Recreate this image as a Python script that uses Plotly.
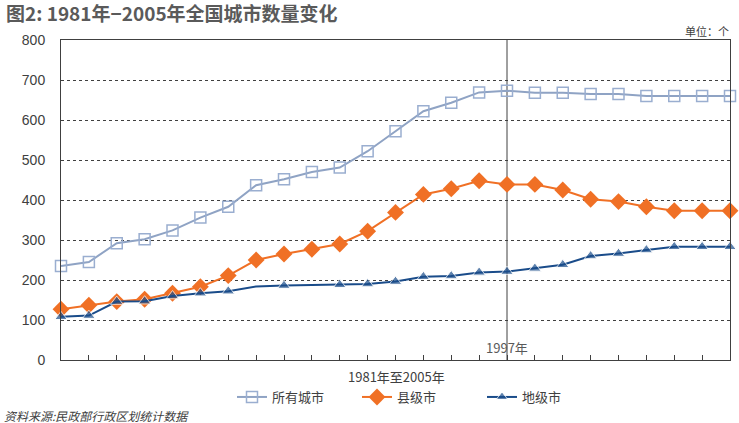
import plotly.graph_objects as go

years = list(range(1981, 2006))
all_cities = [235, 245, 292, 302, 324, 356, 383, 437, 452, 470, 481, 522, 572, 622, 643,
              669, 673, 668, 668, 665, 665, 660, 660, 660, 660]
county_cities = [127, 137, 146, 152, 167, 183, 211, 250, 265, 277, 290, 322, 369, 414, 428,
                 448, 439, 439, 425, 402, 396, 383, 373, 373, 373]
prefecture_cities = [108, 111, 146, 147, 160, 167, 172, 184, 186, 187, 188, 190, 196, 208, 210,
                     219, 221, 229, 238, 260, 266, 275, 283, 283, 283]
series_names = ["所有城市", "县级市", "地级市"]
y_ticks = [0, 100, 200, 300, 400, 500, 600, 700, 800]
highlight_year = 1997

# style: prefecture series shows no marker at 1988 and 1990 in the original
pref_marker_sizes = [0 if y in (1988, 1990) else 11 for y in years]

FONT = "Liberation Sans, Arial, Noto Sans CJK SC, sans-serif"
CJK = "Noto Sans CJK SC, Liberation Sans, sans-serif"

W, H, L, R, T, B = 739, 423, 61, 9, 40, 63
pw, ph = W - L - R, H - T - B


def px_to_paper(x, y):
    return (x - L) / pw, (H - B - y) / ph


fig = go.Figure()
fig.add_trace(go.Scatter(
    x=years, y=all_cities, name=series_names[0], mode="lines+markers",
    line=dict(color="#8FA3C4", width=2),
    marker=dict(symbol="square-open", size=11, color="#9AAED0", line=dict(width=1.5)),
    cliponaxis=False,
))
fig.add_trace(go.Scatter(
    x=years, y=county_cities, name=series_names[1], mode="lines+markers",
    line=dict(color="#F07025", width=2),
    marker=dict(symbol="diamond", size=13, color="#F07025"),
    cliponaxis=False,
))
fig.add_trace(go.Scatter(
    x=years, y=prefecture_cities, name=series_names[2], mode="lines+markers",
    line=dict(color="#1A4C8A", width=2),
    marker=dict(symbol="triangle-up", size=pref_marker_sizes, color="#1A4C8A"),
    cliponaxis=False,
))

fig.add_shape(type="line", x0=highlight_year, x1=highlight_year, y0=0, y1=800,
              xref="x", yref="y", line=dict(color="#404040", width=1), layer="below")

annotations = []
annotations.append(dict(x=highlight_year, y=0, xref="x", yref="y", text=f"{highlight_year}年",
                        showarrow=False, xanchor="center", yanchor="bottom", yshift=1,
                        font=dict(family=CJK, size=13, color="#595959")))
tx, ty = px_to_paper(4, 13)
annotations.append(dict(x=tx, y=ty, xref="paper", yref="paper",
                        text="<b>图2: 1981年−2005年全国城市数量变化</b>",
                        showarrow=False, xanchor="left", yanchor="middle",
                        font=dict(family=CJK, size=19, color="#5A5A5A")))
tx, ty = px_to_paper(396, 376)
annotations.append(dict(x=tx, y=ty, xref="paper", yref="paper", text="1981年至2005年",
                        showarrow=False, xanchor="center", yanchor="middle",
                        font=dict(family=CJK, size=13, color="#404040")))
tx, ty = px_to_paper(731, 31)
annotations.append(dict(x=tx, y=ty, xref="paper", yref="paper", text="单位：个",
                        showarrow=False, xanchor="right", yanchor="middle",
                        font=dict(family=CJK, size=11, color="#404040")))
tx, ty = px_to_paper(2, 415)
annotations.append(dict(x=tx, y=ty, xref="paper", yref="paper",
                        text="<i>资料来源:民政部行政区划统计数据</i>",
                        showarrow=False, xanchor="left", yanchor="middle",
                        font=dict(family=CJK, size=12, color="#404040")))

lx, ly = px_to_paper(232, 397)

fig.update_layout(
    width=W, height=H,
    margin=dict(l=L, r=R, t=T, b=B, autoexpand=False),
    paper_bgcolor="white", plot_bgcolor="white",
    showlegend=True,
    legend=dict(orientation="h", x=lx, xanchor="left", y=ly, yanchor="middle",
                font=dict(family=CJK, size=13, color="#404040"),
                entrywidth=80, entrywidthmode="pixels",
                itemwidth=30, tracegroupgap=0, bgcolor="rgba(0,0,0,0)"),
    xaxis=dict(range=[1981, 2005], tickvals=years, showticklabels=False,
               ticks="inside", ticklen=5, tickcolor="#404040",
               showgrid=False, zeroline=False, showline=True, linecolor="#404040",
               linewidth=1, mirror=True, fixedrange=True),
    yaxis=dict(range=[0, 800], tickvals=y_ticks, ticks="", showgrid=True,
               gridcolor="#404040", griddash="dot", gridwidth=1,
               zeroline=False, showline=True, linecolor="#404040", linewidth=1,
               mirror=True, ticklabelstandoff=12,
               tickfont=dict(family=FONT, size=14, color="#404040")),
    annotations=annotations,
)

fig.write_html("out.html", config={"displayModeBar": False},
               post_script="document.body.style.margin='0';document.body.style.padding='0';")
